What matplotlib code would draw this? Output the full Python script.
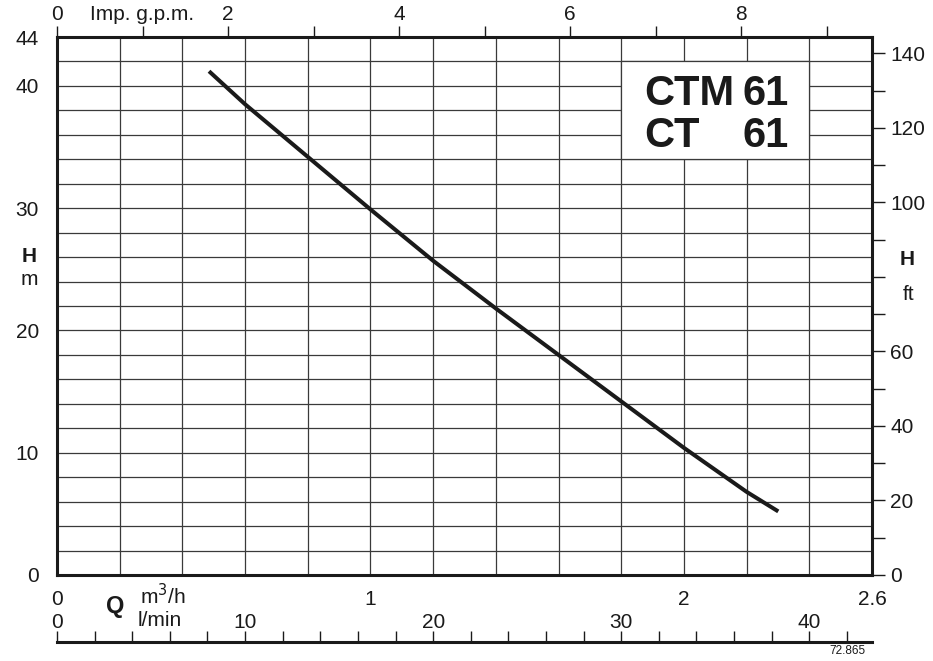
import numpy as np
import matplotlib.pyplot as plt
from matplotlib.patches import Rectangle
from matplotlib.ticker import MultipleLocator

plt.rcParams['font.family'] = ['Liberation Sans', 'DejaVu Sans']

# pump curve (Q in m3/h, H in m)
q_m3h = [0.485, 0.6, 0.8, 1.0, 1.2, 1.4, 1.6, 1.8, 2.0, 2.2, 2.301]
h_m = [41.2, 38.5, 34.2, 29.9, 25.7, 21.8, 18.0, 14.2, 10.4, 6.8, 5.2]

h_ticks = [0, 10, 20, 30, 40, 44]
q_ticks = [0, 1, 2, 2.6]
q_labels = ['0', '1', '2', '2.6']
gpm_ticks = list(range(0, 10))
gpm_labels = ['0', '', '2', '', '4', '', '6', '', '8', '']
ft_ticks = list(range(0, 150, 10))
# 80 ft label is left out, the "H ft" title sits there
ft_labels = [str(v) if v % 20 == 0 and v != 80 else '' for v in ft_ticks]
lmin_ticks = list(range(0, 44, 2))
lmin_labels = [str(v) if v % 10 == 0 else '' for v in lmin_ticks]

GPM = 1000 / 4.54609 / 60   # Imp gpm per m3/h
FT = 3.28084                # ft per m
LMIN = 1000 / 60            # l/min per m3/h
INK = '#1a1a1a'

fig = plt.figure(figsize=(9.33, 6.61), dpi=100)
ax = fig.add_axes([57/933, 86/661, 815/933, 538/661])
ax.set_xlim(0, 2.6)
ax.set_ylim(0, 44)

ax.xaxis.set_minor_locator(MultipleLocator(0.2))
ax.yaxis.set_minor_locator(MultipleLocator(2))
ax.set_axisbelow(True)
ax.grid(which='both', color='#3a3a3a', lw=0.9)

for s in ax.spines.values():
    s.set_linewidth(2.2)
    s.set_color(INK)

ax.set_xticks(q_ticks)
ax.set_xticklabels(q_labels)
ax.set_yticks(h_ticks)
ax.tick_params(which='both', length=0, labelsize=15, colors=INK)
ax.tick_params(axis='x', pad=11)
ax.tick_params(axis='y', pad=13)

# white box behind the model name
ax.add_patch(Rectangle((1.8, 34), 0.6, 8, facecolor='white', edgecolor='#3a3a3a',
                       lw=0.9, zorder=1))
ax.plot(q_m3h, h_m, color=INK, lw=2.9, solid_capstyle='butt',
        solid_joinstyle='round', zorder=3)


def fx(px):
    return px / 933


def fy(py):
    return 1 - py / 661


for txt, yy in [('CTM', 94), ('CT', 136)]:
    fig.text(fx(644), fy(yy), txt, fontsize=30, fontweight='bold', ha='left',
             va='center', color=INK, zorder=5)
    fig.text(fx(789), fy(yy), '61', fontsize=30, fontweight='bold', ha='right',
             va='center', color=INK, zorder=5)

# top axis: Imp. g.p.m.
top = ax.secondary_xaxis('top', functions=(lambda x: x * GPM, lambda x: x / GPM))
top.set_xticks(gpm_ticks)
top.set_xticklabels(gpm_labels)
top.tick_params(length=8, width=1, labelsize=15, pad=1, colors=INK)
top.spines['top'].set_visible(False)

# right axis: feet
right = ax.secondary_yaxis('right', functions=(lambda y: y * FT, lambda y: y / FT))
right.set_yticks(ft_ticks)
right.set_yticklabels(ft_labels)
right.tick_params(length=9, width=1, labelsize=15, pad=4, colors=INK)
right.spines['right'].set_visible(False)

# l/min scale below
ax2 = fig.add_axes([57/933, 19/661, 815/933, 0.0001])
ax2.set_xlim(0, 2.6 * LMIN)
ax2.set_yticks([])
for k in ['left', 'right', 'bottom']:
    ax2.spines[k].set_visible(False)
ax2.spines['top'].set_linewidth(2.2)
ax2.spines['top'].set_color(INK)
ax2.xaxis.set_ticks_position('top')
ax2.set_xticks(lmin_ticks)
ax2.set_xticklabels(lmin_labels)
ax2.tick_params(length=8, width=1, labelsize=15, pad=-1, colors=INK)
ax2.patch.set_visible(False)

# axis titles
fig.text(fx(29), fy(256), 'H', fontsize=15, fontweight='bold', ha='center', va='center', color=INK)
fig.text(fx(29), fy(280), 'm', fontsize=15, ha='center', va='center', color=INK)
fig.text(fx(907), fy(259), 'H', fontsize=15, fontweight='bold', ha='center', va='center', color=INK)
fig.text(fx(909), fy(294), 'ft', fontsize=15, ha='center', va='center', color=INK)
fig.text(fx(142), fy(15), 'Imp. g.p.m.', fontsize=15, ha='center', va='center', color=INK)
fig.text(fx(163), fy(596), 'm$^3$/h', fontsize=15, ha='center', va='center', color=INK)
fig.text(fx(115), fy(607), 'Q', fontsize=17, fontweight='bold', ha='center', va='center', color=INK)
fig.text(fx(160), fy(621), 'l/min', fontsize=15, ha='center', va='center', color=INK)
fig.text(fx(847), fy(651), '72.865', fontsize=8.5, ha='center', va='center', color=INK)

plt.savefig('out.png', dpi=100)
